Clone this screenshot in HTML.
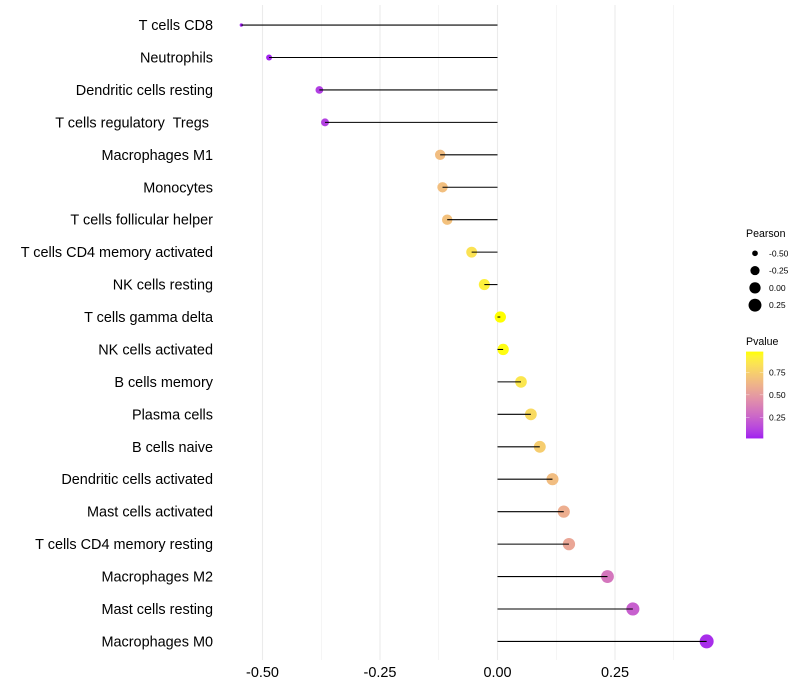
<!DOCTYPE html>
<html lang="en">
<head>
<meta charset="utf-8">
<title>Immune cell correlation lollipop chart</title>
<style>
html,body{margin:0;padding:0;background:#fff;}
#chart{display:block;width:800px;height:700px;font-family:"Liberation Sans",sans-serif;}
text{white-space:pre;}
</style>
</head>
<body>
<svg id="chart" xmlns="http://www.w3.org/2000/svg" width="800" height="700" viewBox="0 0 800 700">
  <defs>
    <linearGradient id="pvalue-gradient" x1="0" y1="1" x2="0" y2="0"></linearGradient>
  </defs>
  <rect x="0" y="0" width="800" height="700" fill="#ffffff"/>
  <g id="grid"></g>
  <g id="points"></g>
  <g id="lines-over"></g>
  <g id="y-axis"></g>
  <g id="x-axis"></g>
  <g id="size-legend">
    <text x="746" y="237" font-size="10.6" fill="#000">Pearson</text>
  </g>
  <g id="color-legend">
    <text x="746" y="345" font-size="10.6" fill="#000">Pvalue</text>
  </g>
</svg>
<script>
const categories = ["T cells CD8","Neutrophils","Dendritic cells resting","T cells regulatory  Tregs ","Macrophages M1","Monocytes","T cells follicular helper","T cells CD4 memory activated","NK cells resting","T cells gamma delta","NK cells activated","B cells memory","Plasma cells","B cells naive","Dendritic cells activated","Mast cells activated","T cells CD4 memory resting","Macrophages M2","Mast cells resting","Macrophages M0"];
const pearson = [-0.545,-0.486,-0.379,-0.367,-0.122,-0.117,-0.107,-0.055,-0.028,0.006,0.012,0.05,0.071,0.09,0.117,0.141,0.152,0.234,0.288,0.445];
const pvalue = [0.015,0.03,0.1,0.11,0.66,0.67,0.68,0.84,0.91,0.98,0.97,0.86,0.8,0.74,0.66,0.59,0.55,0.33,0.23,0.05];
const xTicks = [-0.5,-0.25,0,0.25];
const xMinorTicks = [-0.375,-0.125,0.125,0.375];
const sizeLegendValues = [-0.5,-0.25,0,0.25];
const pvalueLegendValues = [0.25,0.5,0.75];

const SVGNS = "http://www.w3.org/2000/svg";
function xScale(v){ return 497.5 + v * 470; }
function yScale(i){ return 25.06 + i * 32.44; }
const minR = Math.min.apply(null, pearson), maxR = Math.max.apply(null, pearson);
function rScale(v){ return 1.7 + 5.3 * Math.sqrt(Math.max(0,(v - minR) / (maxR - minR))); }
const minP = Math.min.apply(null, pvalue), maxP = Math.max.apply(null, pvalue);
function pBarY(p){ return 417.3 - (p - 0.25) * 90; }

function make(tag, parent, attrs){
  const el = document.createElementNS(SVGNS, tag);
  for (const k in attrs) el.setAttribute(k, attrs[k]);
  parent.appendChild(el);
  return el;
}
function srgbToLin(c){ c/=255; return c<=0.04045? c/12.92 : Math.pow((c+0.055)/1.055,2.4); }
function linToSrgb(c){ c = c<=0.0031308? 12.92*c : 1.055*Math.pow(c,1/2.4)-0.055; return Math.round(255*Math.min(1,Math.max(0,c))); }
function rgbToLab(r,g,b){
  const R=srgbToLin(r),G=srgbToLin(g),B=srgbToLin(b);
  const X=(0.4124564*R+0.3575761*G+0.1804375*B)/0.95047,
        Y=0.2126729*R+0.7151522*G+0.0721750*B,
        Z=(0.0193339*R+0.1191920*G+0.9503041*B)/1.08883;
  const f=t=>t>0.008856?Math.cbrt(t):7.787*t+16/116;
  return [116*f(Y)-16,500*(f(X)-f(Y)),200*(f(Y)-f(Z))];
}
function labToRgb(L,a,b){
  const fy=(L+16)/116,fx=fy+a/500,fz=fy-b/200;
  const g=t=>t*t*t>0.008856?t*t*t:(t-16/116)/7.787;
  const X=g(fx)*0.95047,Y=g(fy),Z=g(fz)*1.08883;
  return "rgb("+linToSrgb(3.2404542*X-1.5371385*Y-0.4985314*Z)+","+linToSrgb(-0.9692660*X+1.8760108*Y+0.0415560*Z)+","+linToSrgb(0.0556434*X-0.2040259*Y+1.0572252*Z)+")";
}
const labLow = rgbToLab(160,32,240), labHigh = rgbToLab(255,255,0);
function colorAt(t){ return labToRgb(labLow[0]+(labHigh[0]-labLow[0])*t, labLow[1]+(labHigh[1]-labLow[1])*t, labLow[2]+(labHigh[2]-labLow[2])*t); }
function pColor(p){ return colorAt((p-minP)/(maxP-minP)); }

const gridG = document.getElementById("grid");
xMinorTicks.forEach(function(v){
  const l = make("line", gridG, {x1:xScale(v),x2:xScale(v),y1:5,y2:660,stroke:"#ebebeb","stroke-width":0.53});
  
  
});
xTicks.forEach(function(v){
  const l = make("line", gridG, {x1:xScale(v),x2:xScale(v),y1:5,y2:660,stroke:"#ebebeb","stroke-width":1.07});
  
  
});

const pointsG = document.getElementById("points");
const linesG = document.getElementById("lines-over");
const yG = document.getElementById("y-axis");
categories.forEach(function(name,i){
  const y = yScale(i), x = xScale(pearson[i]);
  const c = make("circle", pointsG, {cx:x,cy:y,r:rScale(pearson[i]),fill:pColor(pvalue[i])});
  
  
  const l = make("line", linesG, {x1:xScale(0),x2:x,y1:y,y2:y,stroke:"#000000","stroke-width":1.07});
  
  
  const t = make("text", yG, {x:213,y:y+5,"text-anchor":"end","font-size":14.45,fill:"#000"});
  t.textContent = name;
  
  
});

const xG = document.getElementById("x-axis");
xTicks.forEach(function(v){
  const t = make("text", xG, {x:xScale(v),y:677,"text-anchor":"middle","font-size":14.45,fill:"#000"});
  t.textContent = v.toFixed(2);
  
  
});

const sizeG = document.getElementById("size-legend");
sizeLegendValues.forEach(function(v,i){
  const y = 253.3 + i * 17.28;
  const c = make("circle", sizeG, {cx:755,cy:y,r:rScale(v),fill:"#000"});
  
  
  const t = make("text", sizeG, {x:769,y:y+3,"font-size":8.53,fill:"#000"});
  t.textContent = v.toFixed(2);
  
  
});

const grad = document.getElementById("pvalue-gradient");
for (let k = 0; k <= 20; k++){
  make("stop", grad, {offset:(k*5)+"%","stop-color":colorAt(k/20)});
}
const colorG = document.getElementById("color-legend");
const barTop = pBarY(maxP), barBottom = pBarY(minP);
const bar = make("rect", colorG, {x:746,y:barTop,width:17.3,height:barBottom-barTop,fill:"url(#pvalue-gradient)"});


pvalueLegendValues.forEach(function(p){
  const y = pBarY(p);
  const a = make("line", colorG, {x1:746,x2:749.5,y1:y,y2:y,stroke:"#fff","stroke-opacity":0.6,"stroke-width":0.6});
  
  
  const b = make("line", colorG, {x1:759.8,x2:763.3,y1:y,y2:y,stroke:"#fff","stroke-opacity":0.6,"stroke-width":0.6});
  
  
  const t = make("text", colorG, {x:769,y:y+3,"font-size":8.53,fill:"#000"});
  t.textContent = p.toFixed(2);
  
  
});
</script>
</body>
</html>
